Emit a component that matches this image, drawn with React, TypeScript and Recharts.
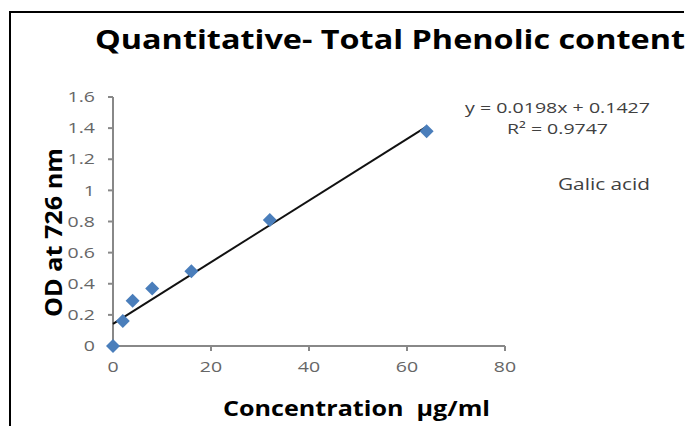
import React from 'react';
import { ScatterChart, Scatter, XAxis, YAxis } from 'recharts';

const concentrations = [0, 2, 4, 8, 16, 32, 64];
const absorbances = [0, 0.16, 0.29, 0.37, 0.48, 0.81, 1.38];
const trendX = [0, 64];
const slope = 0.0198;
const intercept = 0.1427;
const xTicks = [0, 20, 40, 60, 80];
const yTicks = [0, 0.2, 0.4, 0.6, 0.8, 1, 1.2, 1.4, 1.6];

const points = concentrations.map((x, i) => ({ x, y: absorbances[i] }));
const trend = trendX.map((x) => ({ x, y: slope * x + intercept }));

const FONT = '"Open Sans", "Noto Sans", sans-serif';
const SX = 1.3;

const Diamond = (props: any) => {
  const { cx, cy } = props;
  const r = 7;
  return (
    <polygon
      points={`${cx},${cy - r} ${cx + r},${cy} ${cx},${cy + r} ${cx - r},${cy}`}
      fill="#4A7EBB"
    />
  );
};

const YTick = (props: any) => {
  const { x, y, payload } = props;
  return (
    <text
      x={x}
      y={y}
      dy="0.35em"
      textAnchor="end"
      fontFamily={FONT}
      fontSize={15}
      fill="#666666"
      transform={`translate(${x},${y}) scale(${SX},1) translate(${-x},${-y})`}
    >
      {String(payload.value)}
    </text>
  );
};

const XTick = (props: any) => {
  const { x, y, payload } = props;
  return (
    <text
      x={x}
      y={y}
      dy="0.75em"
      textAnchor="middle"
      fontFamily={FONT}
      fontSize={15}
      fill="#666666"
      transform={`translate(${x},${y}) scale(${SX},1) translate(${-x},${-y})`}
    >
      {String(payload.value)}
    </text>
  );
};

export default function App() {
  return (
    <div style={{ position: 'absolute', left: 0, top: 0, width: 688, height: 426, background: '#fff', overflow: 'hidden' }}>
      <div style={{ position: 'absolute', left: 9, top: 11, width: 675, height: 2, background: '#000' }} />
      <div style={{ position: 'absolute', left: 9, top: 11, width: 2, height: 415, background: '#000' }} />
      <ScatterChart width={688} height={426} margin={{ top: 97, right: 183, bottom: 50, left: 73 }}>
        <XAxis
          type="number"
          dataKey="x"
          domain={[0, 80]}
          ticks={xTicks}
          stroke="#888888"
          strokeWidth={2}
          tickSize={5}
          tickMargin={10}
          tick={<XTick />}
          height={30}
        />
        <YAxis
          type="number"
          dataKey="y"
          domain={[0, 1.6]}
          ticks={yTicks}
          stroke="#888888"
          strokeWidth={2}
          tickSize={5}
          tickMargin={13}
          tick={<YTick />}
          width={40}
        />
        <Scatter data={trend} line={{ stroke: '#111', strokeWidth: 2 }} shape={() => null} isAnimationActive={false} />
        <Scatter data={points} shape={<Diamond />} isAnimationActive={false} />
        <text x={95} y={49} textAnchor="start" fontFamily={FONT} fontWeight="bold" fontSize={27} fill="#000" textLength={590} lengthAdjust="spacingAndGlyphs">
          Quantitative- Total Phenolic content
        </text>
        <text x={223} y={416} textAnchor="start" fontFamily={FONT} fontWeight="bold" fontSize={22} fill="#000" textLength={267} lengthAdjust="spacingAndGlyphs">
          {'Concentration\u00a0\u00a0µg/ml'}
        </text>
        <text x={62} y={317} textAnchor="start" fontFamily={FONT} fontWeight="bold" fontSize={23} fill="#000" textLength={169} lengthAdjust="spacingAndGlyphs" transform="rotate(-90 62 317)">
          OD at 726 nm
        </text>
        <text x={465} y={113} textAnchor="start" fontFamily={FONT} fontSize={15} fill="#404040" textLength={185} lengthAdjust="spacingAndGlyphs">
          y = 0.0198x + 0.1427
        </text>
        <text x={507} y={134} textAnchor="start" fontFamily={FONT} fontSize={15} fill="#404040" textLength={101} lengthAdjust="spacingAndGlyphs">
          R² = 0.9747
        </text>
        <text x={558} y={190} textAnchor="start" fontFamily={FONT} fontSize={16} fill="#404040" textLength={92} lengthAdjust="spacingAndGlyphs">
          Galic acid
        </text>
      </ScatterChart>
    </div>
  );
}
